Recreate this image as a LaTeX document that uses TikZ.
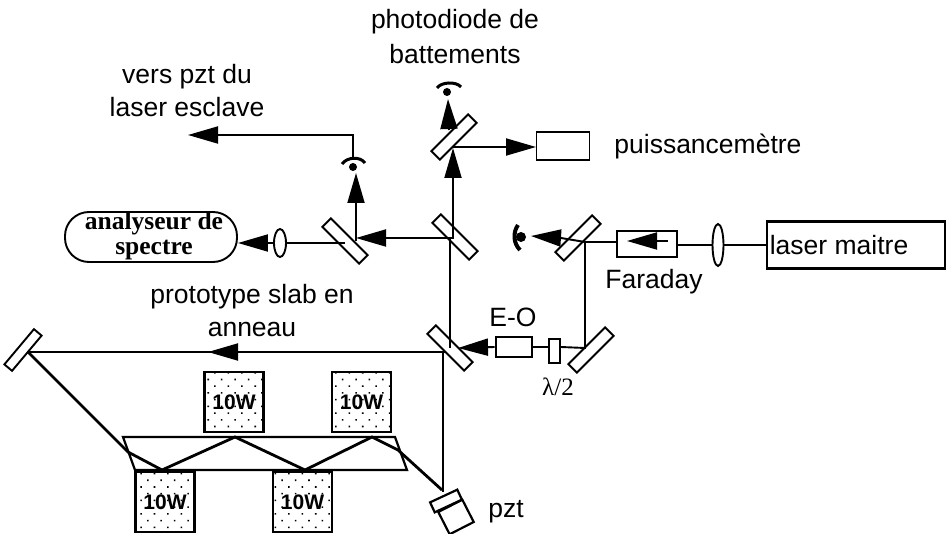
\documentclass[tikz,border=0pt]{standalone}
\usepackage{fontspec}
\setmainfont{Liberation Sans}
\newfontfamily\serifbold[BoldFont={Liberation Serif Bold}]{Liberation Serif}
\usepackage{tikz}
\usetikzlibrary{arrows.meta, positioning, calc, patterns.meta, shapes.geometric}
\tikzset{
    every picture/.append style={line width=1.9pt},
    mirrorbox/.style={draw, rectangle, minimum width=52pt, minimum height=12pt, inner sep=0pt},
    lens/.style={draw, ellipse, fill=white, inner sep=0pt},
    pump/.style={draw, line width=2.4pt, rectangle, inner sep=0pt, minimum width=59pt, minimum height=60pt,
        pattern={Dots[radius=1.1pt,distance=9.5pt,angle=45]}, font=\fontsize{21}{22}\selectfont\bfseries},
    txt/.style={align=center, inner sep=0pt, font=\fontsize{26.5}{37}\selectfont},
    arrowtip/.style={-{Triangle[length=30pt,width=17pt]}},
    dot/.style={circle, fill, inner sep=0pt, minimum size=8pt},
    heavy/.style={line width=3pt}
}
\begin{document}
\begin{tikzpicture}[x=1pt,y=-1pt]
    \useasboundingbox (0,0) rectangle (947,534);

    % Source and isolator
    \node[draw, line width=2.2pt, minimum width=178pt, minimum height=47pt, inner sep=0pt] (laser) at (856,245) {};
    \node[txt, right=3pt of laser.west, anchor=west] (laserText) {laser maitre};
    \node[lens, minimum width=11pt, minimum height=42pt] (lensLaser) at (718,245) {};
    \node[draw, line width=2.2pt, minimum width=60pt, minimum height=26pt, inner sep=0pt] (faraday) at (647,244) {};
    \node[txt] (faradayText) at (654,282) {Faraday};
    \node[mirrorbox, rotate=45] (mirTap) at (578,238) {};
    \node[mirrorbox, rotate=45] (mirFold) at (591,350) {};

    % Plates and modulator
    \node[draw, minimum width=11pt, minimum height=24pt, inner sep=0pt] (plate) at (554.5,351) {};
    \node[txt, font=\serifbold\fontsize{25}{27}\selectfont] (plateText) at (558,387) {λ/2};
    \node[draw, line width=2.6pt, minimum width=36pt, minimum height=20pt, inner sep=0pt] (eom) at (514,347) {};
    \node[txt] (eomText) at (513,317) {E-O};

    % Beam splitters
    \node[mirrorbox, rotate=-45] (bsLow) at (450,348) {};
    \node[mirrorbox, rotate=-45] (bsMid) at (455,237) {};
    \node[mirrorbox, rotate=45] (bsTop) at (454,137) {};
    \node[mirrorbox, rotate=-45] (bsAna) at (345,241) {};
    \node[lens, minimum width=12pt, minimum height=28pt] (lensAna) at (280,243) {};
    \node[draw, rounded corners=24pt, minimum width=172pt, minimum height=50pt, inner sep=0pt] (analyseur) at (151,237) {};
    \node[align=center, inner sep=0pt, font=\serifbold\fontsize{25.5}{25}\selectfont\bfseries] (analyseurText) at (154,236) {analyseur de\\spectre};

    % Power meter
    \node[draw, minimum width=53pt, minimum height=28pt, inner sep=0pt] (meter) at (563,146) {};
    \node[txt, right=23pt of meter.east, anchor=west] (meterText) {puissancemètre};

    % Detectors
    \node[dot] (detBeat) at (447,92) {};
    \node[dot] (detSlave) at (353,167) {};
    \node[dot, minimum size=10pt] (detTap) at (521,237) {};
    \draw[heavy] (437,88) .. controls (441,82) and (456,81) .. (461,87);
    \draw[heavy] (342,164) .. controls (347,157) and (360,156) .. (365,163);
    \draw[line width=4pt] (518,225) .. controls (513,232) and (513,243) .. (520,250);

    % Ring
    \node[mirrorbox, rotate=50, minimum width=46pt, minimum height=10pt] (mirLeft) at (23,350) {};
    \node[draw, line width=2.2pt, minimum width=30pt, minimum height=11pt, inner sep=0pt, rotate=25] (pztMirror) at (446,501) {};
    \node[draw, line width=2.2pt, minimum width=27pt, minimum height=25pt, inner sep=0pt, rotate=27] (pztBox) at (456,517) {};
    \node[txt] (pztText) at (506,512) {pzt};
    \coordinate (slabA) at (123,437);
    \coordinate (slabB) at (395,437);
    \coordinate (slabC) at (407,470);
    \coordinate (slabD) at (135,470);
    \draw[line width=2.2pt] (slabA) -- (slabB) -- (slabC) -- (slabD) -- cycle;

    % Pump diodes
    \foreach \name/\x/\y in {pumpA/234/402, pumpB/361.5/402, pumpC/165/502, pumpD/302.5/502} {
        \node[pump] (\name) at (\x,\y) {10W};
    }
    \draw[line width=4pt] (pumpC.north west) -- (pumpC.north east);
    \draw[line width=4pt] (pumpD.north west) -- (pumpD.north east);

    % Beam between the laser and the splitters
    \coordinate (faradayTail) at (668,241);
    \coordinate (faradayTip) at (627,241);
    \coordinate (tapIn) at (585,242);
    \coordinate (tapTail) at (561,238);
    \coordinate (tapTip) at (531,236);
    \draw (laser.west) -- (lensLaser);
    \draw (lensLaser) -- (faraday.east |- lensLaser);
    \draw (faraday.west |- tapIn) -- (tapIn);
    \draw[arrowtip] (faradayTail) -- (faradayTip);
    \draw[arrowtip] (tapIn) -- (tapTail) -- (tapTip);
    \draw (tapIn) -- (585,348) -- (plate.east |- eom);
    \draw (plate.west |- eom) -- (eom.east);
    \draw[arrowtip] (eom.west) -- (458,348);
    \draw (450,348) -- (450,239);
    \draw (443,352) -- (443,492);

    % Beam towards the detectors
    \draw[arrowtip] (453,239) -- (453,148);
    \draw[arrowtip] (449,130) -- (448,99);
    \draw[arrowtip] (453,147) -- (536,147);
    \draw[arrowtip] (453,238) -- (356,238);
    \draw[arrowtip] (356,241) -- (356,173);
    \draw (345,243) -- (lensAna.east);
    \draw[arrowtip] (lensAna.west) -- (analyseur.east |- lensAna);
    \draw[arrowtip] (353,160) -- (353,135) -- (188,135);

    % Ring path
    \coordinate (ringA) at (28,352);
    \coordinate (ringB) at (128,452);
    \coordinate (ringC) at (162,470);
    \coordinate (ringD) at (235,437);
    \coordinate (ringE) at (305,470);
    \coordinate (ringF) at (372,437);
    \coordinate (ringG) at (398,450);
    \coordinate (ringH) at (442,490);
    \draw (445,352) -- (ringA);
    \draw[arrowtip] (246,352) -- (208,352);
    \draw[line width=2.8pt] (ringA) -- (ringB) -- (ringC) -- (ringD) -- (ringE) -- (ringF) -- (ringG) -- (ringH);

    % Labels
    \node[txt, font=\fontsize{26.5}{35}\selectfont] (beatText) at (455,37) {photodiode de\\battements};
    \node[txt, font=\fontsize{26.5}{33}\selectfont] (slaveText) at (187,91) {vers pzt du\\laser esclave};
    \node[txt, font=\fontsize{26.5}{33}\selectfont] (slabText) at (252,311) {prototype slab en\\anneau};
\end{tikzpicture}
\end{document}
